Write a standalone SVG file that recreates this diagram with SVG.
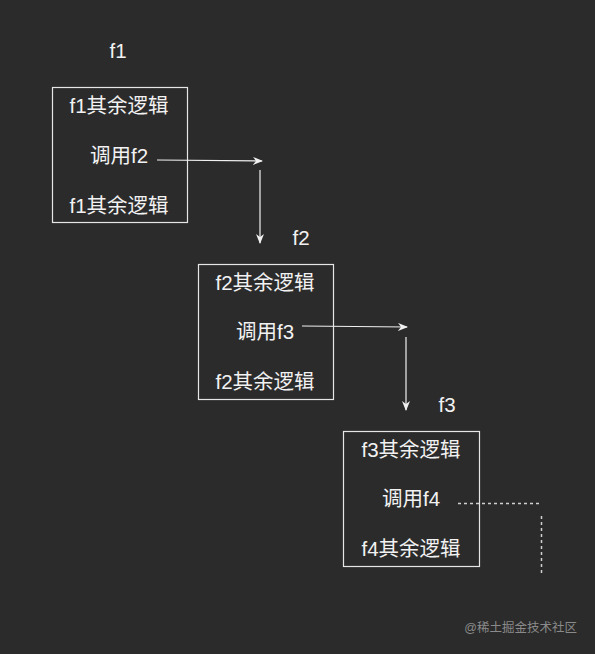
<svg xmlns="http://www.w3.org/2000/svg" width="595" height="654" viewBox="0 0 595 654">
<defs>
<style>
.box{fill:none;stroke:#e6e6e6;stroke-width:1.2}
.t{font-family:"Liberation Sans","Noto Sans CJK SC",sans-serif;font-size:20.5px;fill:#f2f2f2;text-anchor:middle}
.c{stroke:#f0f0f0;stroke-width:1.2;fill:none}
.d{stroke:#d0d0d0;stroke-width:1.5;fill:none;stroke-dasharray:3 3}
.wm{font-family:"Liberation Sans","Noto Sans CJK SC",sans-serif;font-size:12.5px;fill:#8a8a8a;text-anchor:end}
</style>
<marker id="ah" markerWidth="10" markerHeight="8" refX="9" refY="4" orient="auto" markerUnits="userSpaceOnUse">
<path d="M0,0 L10,4 L0,8 L3,4 Z" fill="#f0f0f0"/>
</marker>
</defs>
<rect width="595" height="654" fill="#2b2b2b"/>
<g id="f1">
<text class="t" x="118" y="58">f1</text>
<rect class="box" x="52.5" y="87.5" width="135" height="135"/>
<text class="t" x="119" y="113">f1其余逻辑</text>
<text class="t" x="119" y="163">调用f2</text>
<text class="t" x="119" y="213">f1其余逻辑</text>
</g>
<g id="f2">
<text class="t" x="301" y="245">f2</text>
<rect class="box" x="198.5" y="264.5" width="135" height="135"/>
<text class="t" x="265" y="290">f2其余逻辑</text>
<text class="t" x="265" y="339">调用f3</text>
<text class="t" x="265" y="389">f2其余逻辑</text>
</g>
<g id="f3">
<text class="t" x="447" y="412">f3</text>
<rect class="box" x="343.5" y="431.5" width="136" height="135"/>
<text class="t" x="411" y="457">f3其余逻辑</text>
<text class="t" x="411" y="506">调用f4</text>
<text class="t" x="411" y="556">f4其余逻辑</text>
</g>
<g id="connectors">
<line class="c" x1="157" y1="160" x2="262" y2="161" marker-end="url(#ah)"/>
<line class="c" x1="260" y1="170" x2="260" y2="243" marker-end="url(#ah)"/>
<line class="c" x1="302" y1="326" x2="407" y2="327" marker-end="url(#ah)"/>
<line class="c" x1="406" y1="337" x2="406" y2="410" marker-end="url(#ah)"/>
<line class="d" x1="458" y1="503.5" x2="542" y2="503.5"/>
<line class="d" x1="541.5" y1="516" x2="541.5" y2="575"/>
</g>
<text class="wm" x="577" y="632">@稀土掘金技术社区</text>
</svg>
